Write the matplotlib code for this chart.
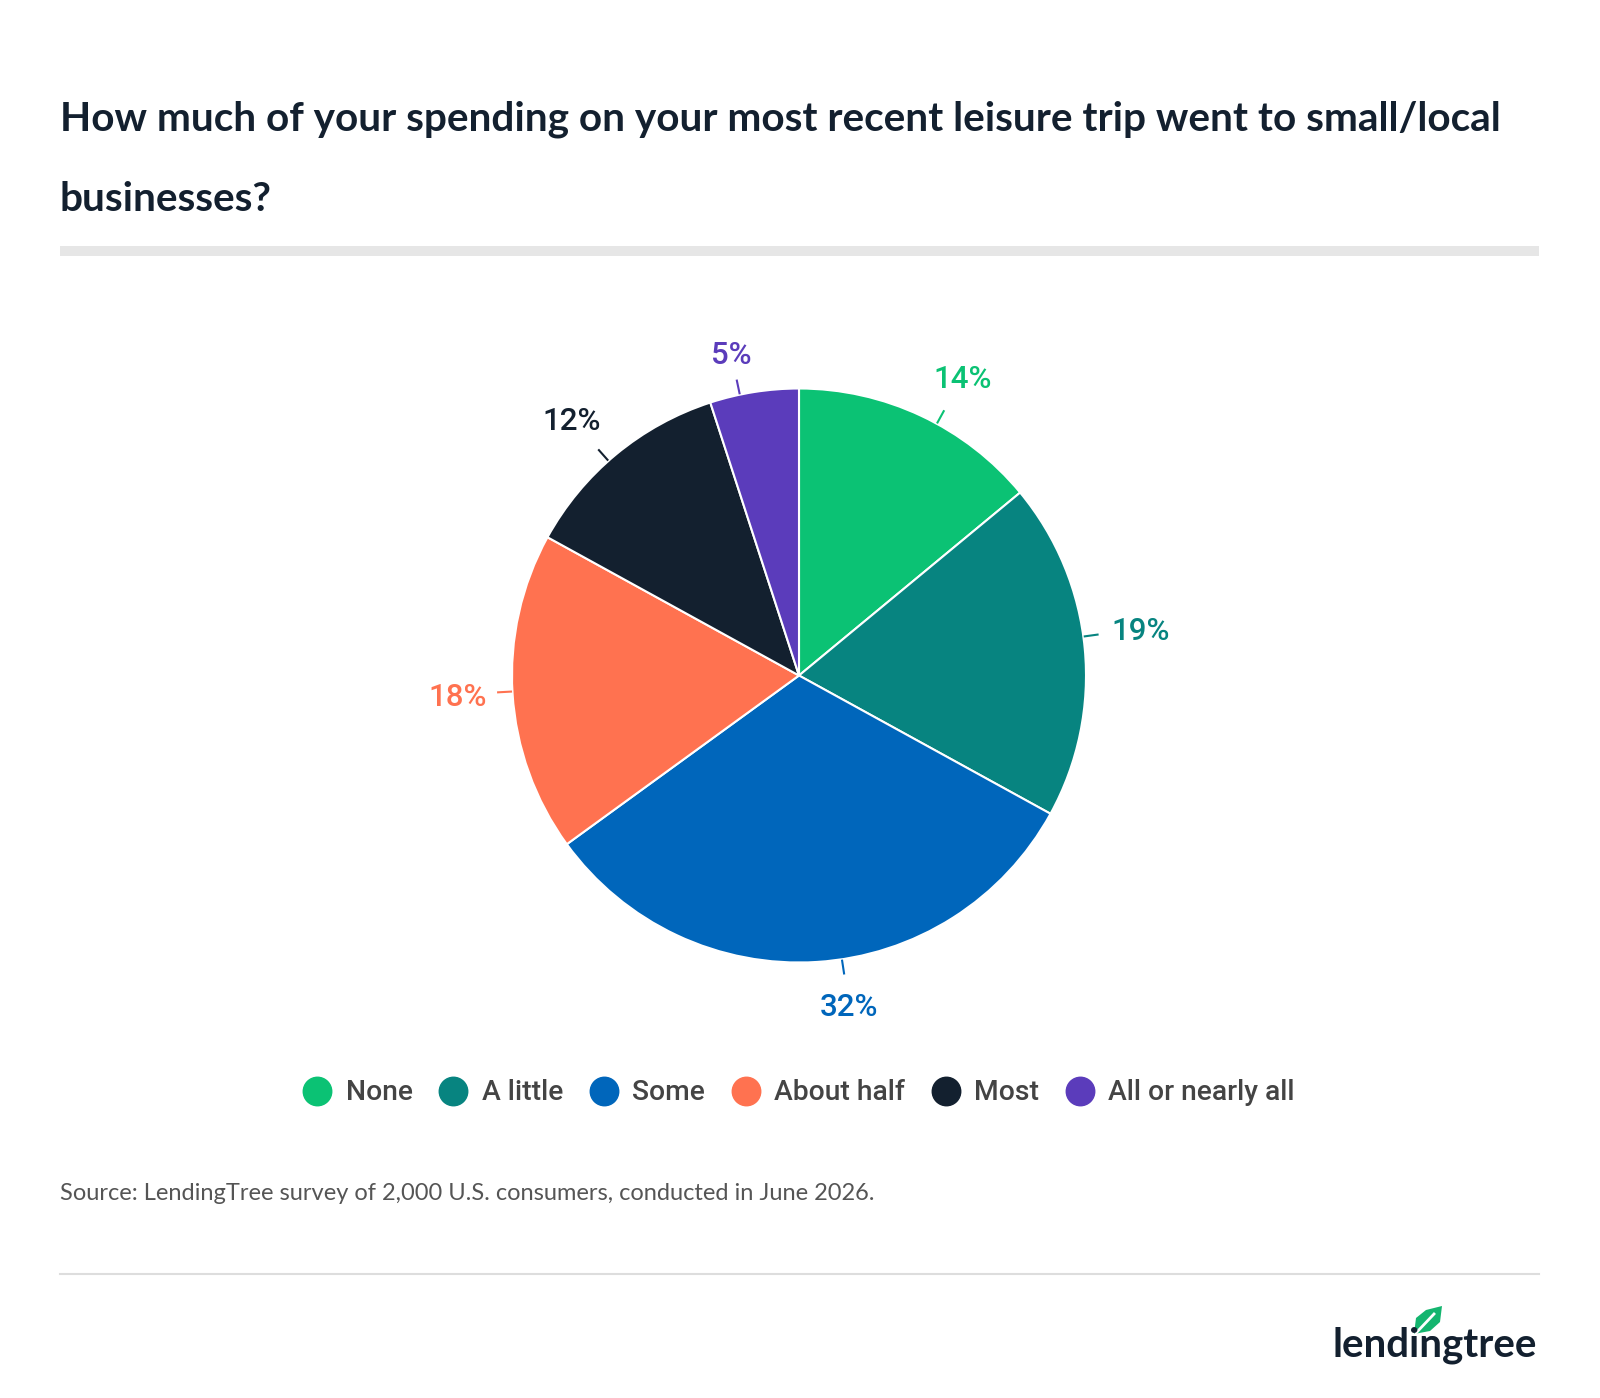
import numpy as np
import matplotlib
matplotlib.use("Agg")
from matplotlib import pyplot as plt
from matplotlib.lines import Line2D
from matplotlib.patches import Polygon

labels = ["None", "A little", "Some", "About half", "Most", "All or nearly all"]
shares = [14, 19, 32, 18, 12, 5]
colors = ["#0bc274", "#078480", "#0066bb", "#ff7250", "#13202f", "#5b3cbb"]

title = "How much of your spending on your most recent leisure trip went to small/local"
title2 = "businesses?"
source = "Source: LendingTree survey of 2,000 U.S. consumers, conducted in June 2026."

W, H = 1600, 1398
fig = plt.figure(figsize=(W / 100, H / 100), dpi=100)
fig.patch.set_facecolor("white")

def fx(px):
    return px / W

def fy(py):
    return 1 - py / H

# title
fig.text(fx(60), fy(130), title, fontsize=29.2, fontweight="bold", family="Lato",
         color="#13202f", va="baseline", ha="left")
fig.text(fx(60), fy(211), title2, fontsize=29.2, fontweight="bold", family="Lato",
         color="#13202f", va="baseline", ha="left")
fig.add_artist(Line2D([fx(60), fx(1539)], [fy(251), fy(251)], color="#e6e6e6", lw=7.2,
                      solid_capstyle="butt"))

# pie
cx, cy, r = 799, 675.5, 287
lim = 1.4
ax = fig.add_axes([fx(cx - lim * r), fy(cy + lim * r), 2 * lim * r / W, 2 * lim * r / H])
wedges, _ = ax.pie(shares, colors=colors, startangle=90, counterclock=False, radius=1,
                   wedgeprops=dict(edgecolor="white", linewidth=1.5))
ax.set_xlim(-lim, lim)
ax.set_ylim(-lim, lim)
ax.set_aspect("equal")
ax.axis("off")

# small angular nudges of the data labels (degrees), like the label layout of the original
nudge = [-3.5, 2.4, 5, -0.4, 2, 2.9]
dist = [1.185, 1.203, 1.16, 1.19, 1.195, 1.15]
lab_size = 22.5
half_cap = 0.711 * lab_size / 72 * 100 / 2 / r   # half the cap height, in data units
cum = np.cumsum([0] + shares[:-1])
for s, c0, col, dn, d in zip(shares, cum, colors, nudge, dist):
    mid = np.deg2rad(90 - (c0 + s / 2) * 3.6 + dn)
    ca, sa = np.cos(mid), np.sin(mid)
    ax.plot([1.005 * ca, 1.05 * ca], [1.005 * sa, 1.05 * sa], color=col, lw=1.5)
    ax.text(d * ca, d * sa - half_cap, f"{s}%", color=col, fontsize=lab_size,
            family="Roboto", fontweight="medium", ha="center", va="baseline")

# legend
handles = [Line2D([], [], marker="o", ls="none", markersize=20.5, markerfacecolor=c,
                  markeredgecolor=c) for c in colors]
fig.legend(handles, labels, loc="center", bbox_to_anchor=(fx(799), fy(1093)), ncol=6,
           frameon=False, prop=dict(family="Roboto", size=20.3, weight="medium"),
           labelcolor="#444444", handletextpad=0.5, columnspacing=0.95, handlelength=1.0)

# source
fig.text(fx(60), fy(1200), source, fontsize=17, family="Lato", color="#555555",
         va="baseline", ha="left")
fig.add_artist(Line2D([fx(60), fx(1539)], [fy(1274), fy(1274)], color="#dddddd", lw=1.5))

# logo
fig.text(fx(1537), fy(1356), "lendingtree", fontsize=29, fontweight="bold", family="Lato",
         color="#13202f", ha="right", va="baseline")
leaf = Polygon([[fx(1414), fy(1334)], [fx(1416), fy(1318)], [fx(1426), fy(1310)],
                [fx(1442), fy(1306)], [fx(1440), fy(1322)], [fx(1430), fy(1331)]],
               closed=True, transform=fig.transFigure, facecolor="#14b56f", edgecolor="none")
fig.add_artist(leaf)
fig.add_artist(Line2D([fx(1416), fx(1434)], [fy(1333), fy(1314)], color="white", lw=2))

fig.savefig("out.png", dpi=100, facecolor="white")
